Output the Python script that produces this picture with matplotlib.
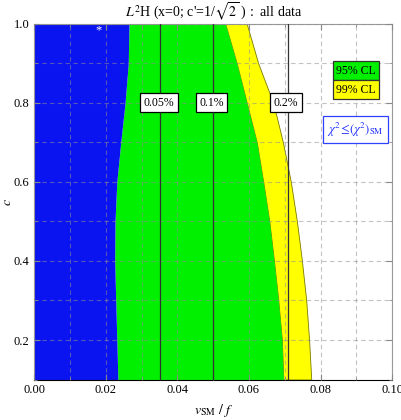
import numpy as np
import matplotlib.pyplot as plt
from matplotlib.ticker import MultipleLocator, FormatStrFormatter

plt.rcParams['font.family'] = ['Liberation Serif', 'DejaVu Serif']
plt.rcParams['mathtext.fontset'] = 'stix'

# boundaries (x value at each c)
c_vals = [0.1, 0.2, 0.3, 0.4, 0.5, 0.6, 0.7, 0.8, 0.9, 1.0]
blue_edge = [0.0234, 0.0231, 0.0228, 0.0225, 0.0226, 0.0231, 0.0242, 0.0254, 0.0263, 0.0265]
cl95_edge = [0.0696, 0.0692, 0.0682, 0.0670, 0.0657, 0.0640, 0.0622, 0.0594, 0.0566, 0.0534]
cl99_edge = [0.0774, 0.0768, 0.0760, 0.0748, 0.0734, 0.0717, 0.0695, 0.0668, 0.0626, 0.0594]

# fine-tuning contours
ft_x = [0.0353, 0.0501, 0.0709]
ft_labels = ["0.05%", "0.1%", "0.2%"]

fig = plt.figure(figsize=(4.01, 4.20), dpi=100)
ax = fig.add_axes([0.085, 0.0964, 0.893, 0.8466])

ax.fill_betweenx(c_vals, cl95_edge, cl99_edge, color='#ffff00', edgecolor='#7a7a00', linewidth=0.6, zorder=1)
ax.fill_betweenx(c_vals, blue_edge, cl95_edge, color='#00f000', linewidth=0, zorder=1.1)
ax.fill_betweenx(c_vals, 0, blue_edge, color='#0a14f0', linewidth=0, zorder=1.2)

ax.set_xlim(0, 0.1)
ax.set_ylim(0.1, 1.0)
ax.xaxis.set_major_locator(MultipleLocator(0.02))
ax.xaxis.set_minor_locator(MultipleLocator(0.01))
ax.yaxis.set_major_locator(MultipleLocator(0.2))
ax.yaxis.set_minor_locator(MultipleLocator(0.1))
ax.xaxis.set_major_formatter(FormatStrFormatter('%.2f'))
ax.yaxis.set_major_formatter(FormatStrFormatter('%.1f'))
ax.grid(True, which='both', color='#909090', alpha=0.55, linestyle=(0, (4, 3)), linewidth=0.8, zorder=2)
ax.set_axisbelow(False)
ax.tick_params(which='both', direction='in', top=True, right=True, labelsize=9, color='#888888')
ax.tick_params(which='major', length=4)
ax.tick_params(which='minor', length=2)
for s in ['top', 'right', 'left']:
    ax.spines[s].set_color('#999999')
ax.spines['bottom'].set_color('black')

for x, lab in zip(ft_x, ft_labels):
    ax.axvline(x, color='#333333', linewidth=0.9, zorder=3)
    ax.text(x - 0.0005, 0.80, lab, ha='center', va='center', fontsize=8.5, zorder=4,
            bbox=dict(boxstyle='square,pad=0.3', facecolor='white', edgecolor='black', linewidth=0.9))

ax.text(0.018, 0.985, '*', color='white', ha='center', va='center', fontsize=9, zorder=4)

# legend boxes
ax.text(0.0899, 0.882, '95% CL', ha='center', va='center', fontsize=8.5, zorder=4,
        bbox=dict(boxstyle='square,pad=0.3', facecolor='#00f000', edgecolor='#333333', linewidth=0.9))
ax.text(0.0899, 0.834, '99% CL', ha='center', va='center', fontsize=8.5, zorder=4,
        bbox=dict(boxstyle='square,pad=0.3', facecolor='#ffff00', edgecolor='#333333', linewidth=0.9))
ax.text(0.0897, 0.732, r'$\chi^2\!\leq\!(\chi^2)_{\rm SM}$', color='#2030ff', ha='center', va='center',
        fontsize=9, zorder=4,
        bbox=dict(boxstyle='square,pad=0.35', facecolor='white', edgecolor='#3040ff', linewidth=0.9))

ax.set_title(r"$L^2$H (x=0; c'=1/$\sqrt{2}$ ) :  all data", fontsize=10, pad=5)
ax.set_xlabel(r'$v_{\rm SM}\ /\ f$', fontsize=10)
ax.set_ylabel(r'$c$', fontsize=10)
ax.yaxis.set_label_coords(-0.055, 0.5)

fig.savefig('out.png', dpi=100)
